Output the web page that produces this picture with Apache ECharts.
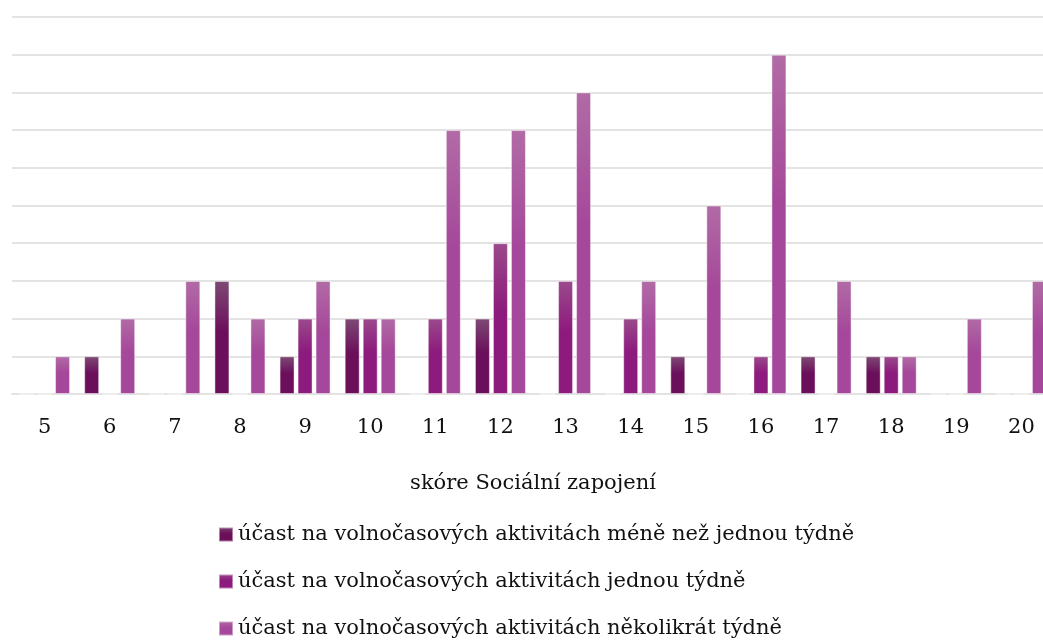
<!DOCTYPE html>
<html>
<head>
<meta charset="utf-8">
<script src="https://cdn.jsdelivr.net/npm/echarts@6/dist/echarts.min.js"></script>
<style>
  html, body { margin: 0; padding: 0; background: #fff; }
  #chart { width: 1043px; height: 641px; }
</style>
</head>
<body>
<div id="chart"></div>
<script>
var categories = ['5','6','7','8','9','10','11','12','13','14','15','16','17','18','19','20'];
var seriesNames = [
    'účast na volnočasových aktivitách méně než jednou týdně',
    'účast na volnočasových aktivitách jednou týdně',
    'účast na volnočasových aktivitách několikrát týdně'
];
var lessThanWeekly = [0, 1, 0, 3, 1, 2, 0, 2, 0, 0, 1, 0, 1, 1, 0, 0];
var onceWeekly     = [0, 0, 0, 0, 2, 2, 2, 4, 3, 2, 0, 1, 0, 1, 0, 0];
var severalWeekly  = [1, 2, 3, 2, 3, 2, 7, 7, 8, 3, 5, 9, 3, 1, 2, 3];

var fontFamily = '"DejaVu Serif", "Liberation Serif", serif';

function grad(top, bottom) {
    return {
        type: 'linear', x: 0, y: 0, x2: 0, y2: 1,
        colorStops: [
            { offset: 0, color: top },
            { offset: 0.45, color: bottom },
            { offset: 1, color: bottom }
        ]
    };
}

var colors = [
    grad('#7e4a74', '#6b0f5b'),
    grad('#9b4a8c', '#8d1a7d'),
    grad('#b16ba5', '#a5479a')
];

var chart = echarts.init(document.getElementById('chart'));
var option = {
    animation: false,
    textStyle: { fontFamily: fontFamily },
    grid: { left: 12, right: -11, top: 17, bottom: 247, outerBoundsMode: 'none', containLabel: false },
    legend: {
        orient: 'vertical',
        left: 218,
        top: 524,
        padding: 0,
        itemWidth: 14,
        itemHeight: 14,
        itemGap: 26,
        icon: 'rect',
        textStyle: { fontSize: 21, color: '#111', fontFamily: fontFamily, lineHeight: 21 },
        data: seriesNames
    },
    xAxis: {
        type: 'category',
        data: categories,
        name: 'skóre Sociální zapojení',
        nameLocation: 'middle',
        nameGap: 79,
        nameTextStyle: { fontSize: 21, color: '#111', fontFamily: fontFamily },
        axisLine: { lineStyle: { color: '#e3e3e3', width: 2 } },
        axisTick: { show: false },
        axisLabel: { fontSize: 21, color: '#111', margin: 23, fontFamily: fontFamily }
    },
    yAxis: {
        type: 'value',
        min: 0,
        max: 10,
        interval: 1,
        axisLabel: { show: false },
        axisLine: { show: false },
        axisTick: { show: false },
        splitLine: { lineStyle: { color: '#e3e3e3', width: 2 } }
    },
    series: [
        { name: seriesNames[0], type: 'bar', data: lessThanWeekly, barWidth: 15, barGap: '20%',
          itemStyle: { color: colors[0], borderColor: 'rgba(255,255,255,0.45)', borderWidth: 1 } },
        { name: seriesNames[1], type: 'bar', data: onceWeekly, barWidth: 15, barGap: '20%',
          itemStyle: { color: colors[1], borderColor: 'rgba(255,255,255,0.45)', borderWidth: 1 } },
        { name: seriesNames[2], type: 'bar', data: severalWeekly, barWidth: 15, barGap: '20%',
          itemStyle: { color: colors[2], borderColor: 'rgba(255,255,255,0.45)', borderWidth: 1 } }
    ]
};
chart.setOption(option);
</script>
</body>
</html>
